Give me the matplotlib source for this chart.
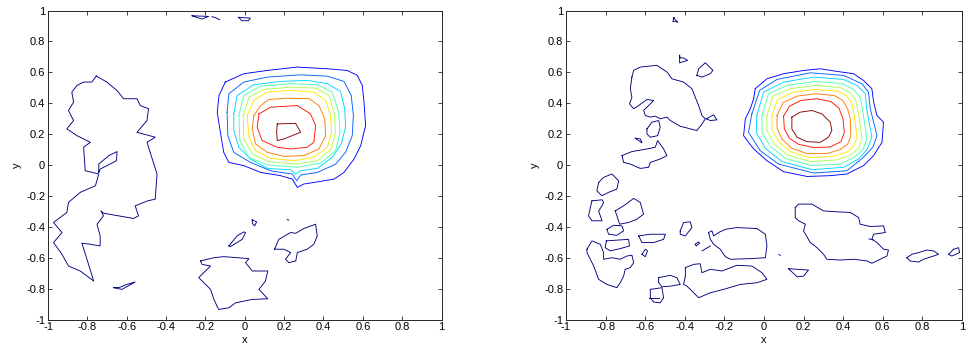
import numpy as np
import matplotlib
matplotlib.use("Agg")
import matplotlib.pyplot as plt

plt.rcParams['font.family'] = ['Liberation Sans', 'DejaVu Sans']

tick_values = [-1, -0.8, -0.6, -0.4, -0.2, 0, 0.2, 0.4, 0.6, 0.8, 1]
tick_labels = ['-1', '-0.8', '-0.6', '-0.4', '-0.2', '0', '0.2', '0.4', '0.6', '0.8', '1']

# jet levels: 0 = lowest contour (the scattered patches), 1..9 = peak rings, outside -> in
level_colors = plt.cm.jet(np.linspace(0, 1, 10))

# ---------------- left panel ----------------
left_patch_x = [
    [-0.755, -0.701, -0.650, -0.616, -0.548, -0.531, -0.489, -0.497, -0.548, -0.455, -0.497, -0.446, -0.455,
     -0.494, -0.557, -0.540, -0.565, -0.718, -0.731, -0.718, -0.751, -0.735, -0.735, -0.785, -0.828, -0.802,
     -0.768, -0.836, -0.896, -0.929, -0.972, -0.929, -0.972, -0.904, -0.896, -0.836, -0.759, -0.742, -0.811,
     -0.819, -0.785, -0.853, -0.904, -0.870, -0.896, -0.870, -0.879, -0.853, -0.819, -0.777],
    [-0.742, -0.742, -0.691, -0.649, -0.652, -0.734],
    [-0.667, -0.624, -0.557, -0.599, -0.636],
    [-0.225, -0.157, -0.106, 0.021, 0.004, 0.038, 0.081, 0.117, 0.105, 0.072, 0.117, 0.038, -0.047, -0.081,
     -0.133, -0.157, -0.174, -0.234, -0.200, -0.174, -0.217],
    [-0.081, -0.039, -0.005, 0.004, -0.013, -0.073],
    [0.038, 0.060, 0.050, 0.038],
    [0.151, 0.173, 0.233, 0.259, 0.300, 0.360, 0.368, 0.351, 0.317, 0.267, 0.259, 0.224, 0.207, 0.233, 0.199],
    [-0.268, -0.184, -0.218],
    [-0.032, 0.028, 0.019, -0.014],
]
left_patch_y = [
    [0.576, 0.537, 0.483, 0.429, 0.429, 0.385, 0.364, 0.288, 0.212, 0.180, 0.147, -0.058, -0.221, -0.232,
     -0.264, -0.329, -0.346, -0.312, -0.297, -0.329, -0.383, -0.459, -0.524, -0.513, -0.506, -0.610, -0.751,
     -0.686, -0.654, -0.578, -0.502, -0.437, -0.372, -0.307, -0.242, -0.177, -0.134, -0.058, -0.037, 0.115,
     0.147, 0.190, 0.234, 0.288, 0.353, 0.407, 0.472, 0.515, 0.537, 0.537],
    [-0.048, 0.006, 0.061, 0.087, 0.028, -0.026],
    [-0.794, -0.805, -0.757, -0.773, -0.792],
    [-0.621, -0.600, -0.593, -0.606, -0.632, -0.686, -0.686, -0.686, -0.751, -0.805, -0.866, -0.870, -0.892,
     -0.924, -0.935, -0.870, -0.805, -0.729, -0.686, -0.654, -0.643],
    [-0.524, -0.459, -0.433, -0.437, -0.481, -0.528],
    [-0.355, -0.368, -0.394, -0.377],
    [-0.545, -0.481, -0.437, -0.442, -0.411, -0.383, -0.459, -0.513, -0.545, -0.567, -0.621, -0.632, -0.610,
     -0.567, -0.545],
    [0.966, 0.962, 0.945],
    [0.956, 0.951, 0.934, 0.934],
]
left_open_x = [[-0.167, -0.150, -0.128], [0.215, 0.224]]
left_open_y = [[0.960, 0.955, 0.940], [-0.353, -0.357]]

left_ring_x = [
    [-0.099, -0.005, 0.114, 0.267, 0.420, 0.521, 0.572, 0.597, 0.606, 0.614, 0.589, 0.555, 0.504, 0.454, 0.351,
     0.300, 0.267, 0.242, 0.182, 0.081, -0.005, -0.081, -0.107, -0.124, -0.140, -0.131],
    [-0.090, -0.081, -0.005, 0.114, 0.284, 0.420, 0.504, 0.541, 0.552, 0.546, 0.512, 0.462, 0.369, 0.284, 0.264,
     0.242, 0.131, 0.029, -0.056, -0.086],
    [-0.056, -0.039, 0.046, 0.182, 0.318, 0.420, 0.487, 0.508, 0.512, 0.490, 0.445, 0.369, 0.284, 0.258, 0.233,
     0.115, 0.029, -0.030, -0.056],
    [-0.030, -0.005, 0.081, 0.233, 0.369, 0.445, 0.477, 0.484, 0.462, 0.385, 0.267, 0.115, 0.021, -0.025],
    [-0.008, 0.021, 0.097, 0.233, 0.360, 0.428, 0.456, 0.461, 0.440, 0.369, 0.258, 0.122, 0.038, -0.005],
    [0.012, 0.046, 0.114, 0.233, 0.351, 0.411, 0.436, 0.441, 0.420, 0.351, 0.250, 0.131, 0.055, 0.021],
    [0.046, 0.081, 0.122, 0.216, 0.327, 0.377, 0.406, 0.411, 0.377, 0.300, 0.199, 0.114, 0.055, 0.038],
    [0.072, 0.131, 0.267, 0.334, 0.360, 0.351, 0.317, 0.233, 0.165, 0.088, 0.063],
    [0.165, 0.258, 0.284, 0.199, 0.165, 0.162],
]
left_ring_y = [
    [0.537, 0.591, 0.612, 0.634, 0.623, 0.612, 0.580, 0.515, 0.407, 0.255, 0.125, 0.039, -0.048, -0.091, -0.113,
     -0.123, -0.145, -0.091, -0.069, -0.048, -0.004, 0.017, 0.082, 0.212, 0.342, 0.450],
    [0.342, 0.461, 0.537, 0.569, 0.584, 0.575, 0.541, 0.450, 0.320, 0.190, 0.082, 0.006, -0.048, -0.065, -0.102,
     -0.059, -0.037, 0.017, 0.082, 0.190],
    [0.331, 0.450, 0.520, 0.541, 0.548, 0.526, 0.476, 0.364, 0.245, 0.136, 0.050, -0.022, -0.037, -0.059, -0.031,
     -0.022, 0.039, 0.115, 0.223],
    [0.320, 0.450, 0.511, 0.526, 0.520, 0.472, 0.342, 0.212, 0.093, 0.013, -0.015, 0.000, 0.050, 0.158],
    [0.320, 0.439, 0.489, 0.504, 0.498, 0.450, 0.331, 0.212, 0.104, 0.028, 0.006, 0.022, 0.071, 0.169],
    [0.320, 0.418, 0.472, 0.483, 0.472, 0.418, 0.320, 0.212, 0.115, 0.050, 0.028, 0.043, 0.093, 0.180],
    [0.320, 0.385, 0.424, 0.433, 0.429, 0.385, 0.299, 0.190, 0.104, 0.061, 0.056, 0.082, 0.136, 0.234],
    [0.331, 0.374, 0.385, 0.331, 0.255, 0.147, 0.115, 0.104, 0.115, 0.158, 0.245],
    [0.266, 0.270, 0.212, 0.169, 0.158, 0.212],
]

# ---------------- right panel ----------------
right_patch_x = [
    [-0.667, -0.658, -0.625, -0.574, -0.541, -0.490, -0.465, -0.406, -0.364, -0.347, -0.330, -0.313, -0.296,
     -0.313, -0.339, -0.372, -0.423, -0.473, -0.490, -0.524, -0.549, -0.574, -0.599, -0.608, -0.574, -0.557,
     -0.591, -0.633, -0.658, -0.679, -0.667, -0.675],
    [-0.291, -0.254, -0.238, -0.271],
    [-0.339, -0.330, -0.296, -0.258, -0.271, -0.313],
    [-0.426, -0.426, -0.386, -0.406, -0.423],
    [-0.591, -0.566, -0.532, -0.524, -0.537, -0.574, -0.591],
    [-0.650, -0.616, -0.625],
    [-0.717, -0.667, -0.591, -0.549, -0.537, -0.507, -0.490, -0.524, -0.574, -0.583, -0.625, -0.675, -0.709],
    [-0.835, -0.810, -0.768, -0.734, -0.743, -0.785, -0.818, -0.844],
    [-0.869, -0.818, -0.810, -0.818, -0.835, -0.818, -0.869, -0.886, -0.877],
    [-0.751, -0.709, -0.658, -0.625, -0.608, -0.642, -0.684, -0.729],
    [-0.793, -0.759, -0.717, -0.709, -0.743, -0.785],
    [-0.796, -0.684, -0.679, -0.726, -0.776, -0.802],
    [-0.894, -0.869, -0.827, -0.810, -0.810, -0.768, -0.726, -0.692, -0.667, -0.658, -0.675, -0.701, -0.709,
     -0.726, -0.743, -0.793, -0.835, -0.860, -0.894],
    [-0.633, -0.574, -0.498, -0.507, -0.557, -0.616],
    [-0.616, -0.599, -0.588, -0.599],
    [-0.423, -0.406, -0.372, -0.364, -0.397, -0.423],
    [-0.347, -0.330, -0.325, -0.342],
    [-0.280, -0.263, -0.254, -0.229, -0.195, -0.137, -0.036, 0.007, 0.015, 0.007, -0.069, -0.170, -0.195, -0.221,
     -0.254, -0.271],
    [-0.397, -0.355, -0.322, -0.313, -0.271, -0.212, -0.137, -0.061, -0.010, 0.015, -0.036, -0.120, -0.204,
     -0.271, -0.330, -0.372, -0.389, -0.406, -0.397],
    [-0.532, -0.473, -0.440, -0.423, -0.473, -0.515, -0.532],
    [-0.574, -0.515, -0.507, -0.524, -0.557, -0.574],
    [0.158, 0.175, 0.242, 0.301, 0.369, 0.436, 0.478, 0.486, 0.537, 0.604, 0.613, 0.554, 0.545, 0.571, 0.604,
     0.629, 0.621, 0.587, 0.545, 0.520, 0.453, 0.385, 0.318, 0.301, 0.268, 0.234, 0.200, 0.209, 0.175, 0.158],
    [0.722, 0.747, 0.781, 0.823, 0.857, 0.882, 0.857, 0.806, 0.781, 0.739],
    [0.932, 0.958, 0.983, 0.988, 0.949],
    [0.124, 0.167, 0.225, 0.200, 0.167],
    [-0.455, -0.460, -0.435, -0.448],
]
right_patch_y = [
    [0.569, 0.613, 0.634, 0.641, 0.645, 0.602, 0.558, 0.537, 0.494, 0.439, 0.385, 0.320, 0.299, 0.266, 0.223,
     0.234, 0.251, 0.288, 0.310, 0.299, 0.316, 0.310, 0.320, 0.353, 0.396, 0.418, 0.424, 0.385, 0.364, 0.396,
     0.439, 0.494],
    [0.299, 0.325, 0.292, 0.288],
    [0.580, 0.623, 0.662, 0.613, 0.591, 0.569],
    [0.710, 0.662, 0.677, 0.693, 0.693],
    [0.234, 0.277, 0.288, 0.245, 0.190, 0.180, 0.201],
    [0.173, 0.143, 0.169],
    [0.061, 0.087, 0.104, 0.115, 0.158, 0.104, 0.061, 0.039, 0.017, -0.015, -0.022, 0.006, 0.017],
    [-0.113, -0.080, -0.058, -0.102, -0.156, -0.177, -0.199, -0.167],
    [-0.232, -0.225, -0.242, -0.264, -0.297, -0.361, -0.361, -0.329, -0.275],
    [-0.297, -0.264, -0.216, -0.242, -0.318, -0.351, -0.372, -0.383],
    [-0.416, -0.390, -0.394, -0.426, -0.455, -0.448],
    [-0.491, -0.481, -0.524, -0.541, -0.556, -0.535],
    [-0.545, -0.491, -0.513, -0.567, -0.610, -0.600, -0.610, -0.589, -0.584, -0.632, -0.664, -0.675, -0.719,
     -0.762, -0.794, -0.773, -0.740, -0.654, -0.567],
    [-0.459, -0.448, -0.448, -0.481, -0.502, -0.502],
    [-0.578, -0.545, -0.556, -0.593],
    [-0.426, -0.372, -0.368, -0.405, -0.459, -0.448],
    [-0.513, -0.498, -0.506, -0.524],
    [-0.437, -0.426, -0.459, -0.437, -0.416, -0.405, -0.411, -0.448, -0.524, -0.600, -0.606, -0.610, -0.593,
     -0.545, -0.513, -0.481],
    [-0.664, -0.643, -0.639, -0.697, -0.675, -0.686, -0.649, -0.654, -0.697, -0.740, -0.762, -0.773, -0.805,
     -0.827, -0.859, -0.805, -0.784, -0.773, -0.719],
    [-0.729, -0.714, -0.729, -0.773, -0.784, -0.788, -0.762],
    [-0.805, -0.794, -0.859, -0.892, -0.887, -0.859],
    [-0.275, -0.253, -0.253, -0.297, -0.303, -0.307, -0.340, -0.383, -0.398, -0.394, -0.437, -0.448, -0.481,
     -0.502, -0.545, -0.550, -0.589, -0.610, -0.636, -0.621, -0.610, -0.615, -0.610, -0.578, -0.535, -0.502,
     -0.426, -0.383, -0.361, -0.340],
    [-0.600, -0.578, -0.567, -0.550, -0.556, -0.578, -0.589, -0.610, -0.628, -0.621],
    [-0.578, -0.545, -0.535, -0.567, -0.589],
    [-0.671, -0.675, -0.680, -0.719, -0.723],
    [0.955, 0.930, 0.925, 0.940],
]
right_open_x = [[-0.313, -0.271], [-0.583, -0.532], [0.075, 0.083], [0.530, 0.552]]
right_open_y = [[-0.556, -0.524], [-0.859, -0.859], [-0.580, -0.584], [-0.478, -0.484]]

right_ring_x = [
    [-0.044, 0.015, 0.099, 0.200, 0.284, 0.369, 0.453, 0.503, 0.545, 0.554, 0.571, 0.604, 0.596, 0.554, 0.503,
     0.419, 0.335, 0.217, 0.099, 0.015, -0.052, -0.103, -0.094, -0.069, -0.052],
    [-0.061, -0.022, 0.066, 0.234, 0.402, 0.495, 0.528, 0.537, 0.571, 0.550, 0.503, 0.419, 0.251, 0.074, -0.019,
     -0.078],
    [-0.036, -0.002, 0.099, 0.251, 0.402, 0.470, 0.512, 0.520, 0.545, 0.523, 0.478, 0.402, 0.242, 0.091, 0.007,
     -0.039],
    [-0.010, 0.023, 0.116, 0.259, 0.394, 0.453, 0.486, 0.500, 0.520, 0.500, 0.456, 0.385, 0.242, 0.108, 0.032,
     -0.010],
    [0.015, 0.045, 0.133, 0.259, 0.385, 0.436, 0.464, 0.478, 0.495, 0.478, 0.436, 0.369, 0.234, 0.119, 0.052,
     0.015],
    [0.040, 0.069, 0.150, 0.259, 0.372, 0.419, 0.444, 0.456, 0.470, 0.453, 0.416, 0.352, 0.229, 0.133, 0.074,
     0.040],
    [0.066, 0.096, 0.167, 0.259, 0.355, 0.399, 0.422, 0.436, 0.439, 0.422, 0.385, 0.318, 0.217, 0.141, 0.091,
     0.066],
    [0.099, 0.129, 0.187, 0.266, 0.338, 0.379, 0.399, 0.406, 0.389, 0.335, 0.251, 0.175, 0.129, 0.103],
    [0.141, 0.183, 0.242, 0.293, 0.335, 0.343, 0.326, 0.284, 0.217, 0.167, 0.141],
]
right_ring_y = [
    [0.494, 0.558, 0.591, 0.612, 0.623, 0.606, 0.591, 0.547, 0.494, 0.407, 0.320, 0.277, 0.147, 0.061, -0.004,
     -0.058, -0.069, -0.074, -0.043, 0.028, 0.104, 0.190, 0.299, 0.364, 0.429],
    [0.331, 0.483, 0.554, 0.597, 0.580, 0.526, 0.472, 0.364, 0.190, 0.115, 0.050, -0.037, -0.052, 0.006, 0.093,
     0.212],
    [0.320, 0.472, 0.537, 0.569, 0.554, 0.515, 0.461, 0.353, 0.180, 0.104, 0.039, -0.015, -0.030, 0.022, 0.108,
     0.212],
    [0.320, 0.461, 0.515, 0.541, 0.528, 0.489, 0.439, 0.342, 0.169, 0.100, 0.050, 0.006, -0.004, 0.043, 0.121,
     0.212],
    [0.320, 0.446, 0.494, 0.515, 0.502, 0.467, 0.418, 0.331, 0.169, 0.108, 0.065, 0.033, 0.022, 0.065, 0.136,
     0.223],
    [0.320, 0.424, 0.472, 0.489, 0.478, 0.446, 0.396, 0.320, 0.180, 0.121, 0.082, 0.056, 0.048, 0.087, 0.151,
     0.234],
    [0.320, 0.403, 0.446, 0.461, 0.450, 0.418, 0.364, 0.299, 0.186, 0.134, 0.100, 0.074, 0.074, 0.108, 0.169,
     0.238],
    [0.316, 0.381, 0.418, 0.429, 0.411, 0.368, 0.299, 0.212, 0.151, 0.117, 0.113, 0.134, 0.173, 0.234],
    [0.310, 0.342, 0.353, 0.331, 0.277, 0.223, 0.180, 0.147, 0.151, 0.180, 0.234],
]


def draw_panel(ax, patch_x, patch_y, open_x, open_y, ring_x, ring_y):
    lw = 0.65
    for xs, ys in zip(patch_x, patch_y):
        ax.plot(xs + xs[:1], ys + ys[:1], color=level_colors[0], lw=lw)
    for xs, ys in zip(open_x, open_y):
        ax.plot(xs, ys, color=level_colors[0], lw=lw)
    for i, (xs, ys) in enumerate(zip(ring_x, ring_y)):
        ax.plot(xs + xs[:1], ys + ys[:1], color=level_colors[i + 1], lw=lw)

    ax.set_xlim(-1, 1)
    ax.set_ylim(-1, 1)
    ax.set_xticks(tick_values)
    ax.set_xticklabels(tick_labels)
    ax.set_yticks(tick_values)
    ax.set_yticklabels(tick_labels)
    ax.tick_params(direction='in', length=3, width=0.6, labelsize=8, pad=2,
                   top=True, right=True, colors='#262626', labelcolor='black')
    for sp in ax.spines.values():
        sp.set_linewidth(0.7)
        sp.set_color('#262626')
    ax.set_xlabel('x', fontsize=8, labelpad=2)
    ax.set_ylabel('y', fontsize=8, labelpad=3)


fig = plt.figure(figsize=(9.66, 3.52), dpi=100)
ax1 = fig.add_axes([0.0497, 0.0923, 0.4074, 0.8778])
ax2 = fig.add_axes([0.5859, 0.0923, 0.4099, 0.8778])

draw_panel(ax1, left_patch_x, left_patch_y, left_open_x, left_open_y, left_ring_x, left_ring_y)
draw_panel(ax2, right_patch_x, right_patch_y, right_open_x, right_open_y, right_ring_x, right_ring_y)

fig.savefig('out.png', dpi=100)
